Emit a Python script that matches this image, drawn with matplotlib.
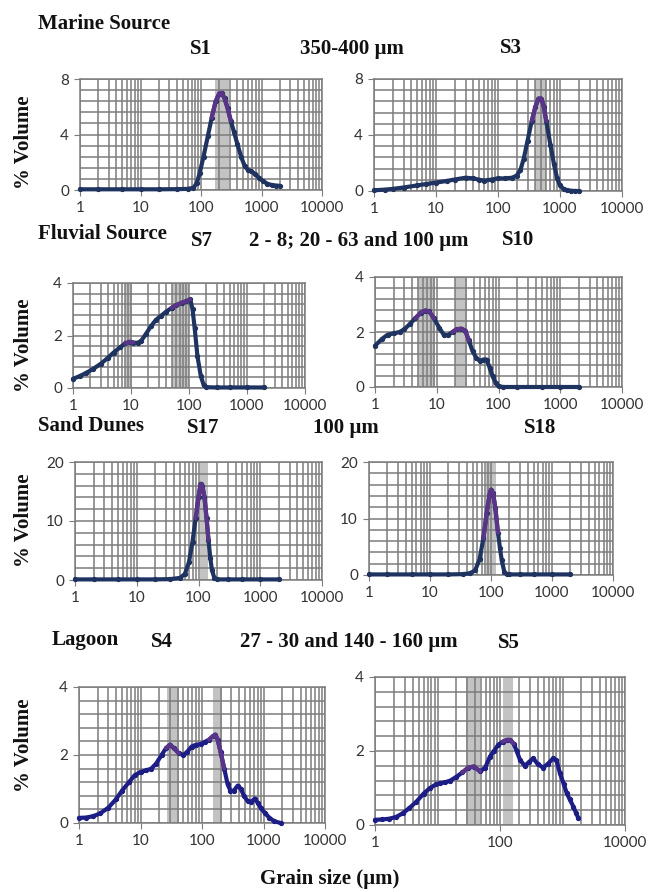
import numpy as np
import matplotlib
matplotlib.use('Agg')
import matplotlib.pyplot as plt
from matplotlib.ticker import FixedLocator, NullFormatter

W, H = 649, 892

# grain size (um) / % volume
s1_x = [1, 2, 5, 10, 20, 40, 60, 75, 85, 95, 110, 130, 150, 175, 200, 220, 245, 275, 310, 350,
        400, 460, 530, 600, 680, 780, 900, 1050, 1250, 1500, 1750, 2000]
s1_y = [0.05, 0.05, 0.05, 0.05, 0.05, 0.06, 0.08, 0.15, 0.5, 1.2, 2.4, 3.9, 5.2, 6.4, 6.95, 7.0,
        6.6, 5.9, 5.0, 4.2, 3.3, 2.4, 1.7, 1.45, 1.35, 1.15, 0.9, 0.65, 0.45, 0.35, 0.32, 0.3]

s3_x = [1, 1.5, 2, 3, 5, 7, 10, 15, 20, 30, 40, 50, 60, 80, 100, 130, 170, 200, 230, 260, 300,
        350, 400, 450, 500, 550, 600, 700, 800, 900, 1000, 1150, 1300, 1500, 1750, 2000]
s3_y = [0.05, 0.1, 0.15, 0.25, 0.4, 0.5, 0.6, 0.72, 0.82, 0.95, 0.9, 0.8, 0.75, 0.82, 0.9, 0.9,
        0.95, 1.1, 1.5, 2.3, 3.6, 5.0, 6.0, 6.6, 6.6, 6.0, 5.0, 3.3, 1.9, 0.9, 0.4, 0.12, 0.05,
        0.02, 0.0, 0.0]

s7_x = [1, 1.3, 1.7, 2.2, 3, 4, 5, 6.5, 8, 9.5, 11, 13, 15, 18, 22, 27, 33, 40, 50, 60, 75, 90,
        105, 115, 125, 140, 160, 180, 200, 300, 500, 1000, 2000]
s7_y = [0.35, 0.45, 0.58, 0.72, 0.92, 1.15, 1.35, 1.55, 1.7, 1.76, 1.73, 1.72, 1.8, 2.05, 2.35,
        2.6, 2.75, 2.9, 3.05, 3.15, 3.25, 3.3, 3.38, 3.0, 2.3, 1.2, 0.45, 0.1, 0.03, 0.02, 0.02,
        0.02, 0.02]

s10_x = [1, 1.3, 1.6, 2, 2.5, 3, 3.7, 4.5, 5.5, 6.5, 7.5, 9, 11, 13, 15, 18, 21, 25, 29, 33, 38,
         44, 50, 57, 64, 72, 80, 90, 100, 120, 200, 500, 1000, 2000]
s10_y = [1.5, 1.75, 1.9, 1.95, 2.0, 2.1, 2.3, 2.5, 2.7, 2.78, 2.75, 2.5, 2.15, 1.9, 1.88, 2.0, 2.1,
         2.12, 2.05, 1.7, 1.3, 1.05, 0.95, 1.0, 1.0, 0.7, 0.4, 0.15, 0.02, 0.0, 0.0, 0.0, 0.0, 0.0]

s17_x = [1, 2, 5, 10, 20, 35, 50, 60, 70, 80, 90, 100, 108, 115, 125, 135, 145, 155, 165, 180,
         200, 300, 500, 1000, 2000]
s17_y = [0.1, 0.1, 0.1, 0.1, 0.1, 0.15, 0.35, 1.0, 3.0, 6.5, 10.5, 14.0, 16.3, 16.0, 14.0, 10.5,
         6.8, 3.8, 1.7, 0.4, 0.1, 0.1, 0.1, 0.1, 0.1]

s18_x = [1, 2, 5, 10, 20, 35, 45, 55, 65, 75, 85, 95, 100, 108, 118, 130, 140, 150, 165, 180,
         200, 300, 500, 1000, 2000]
s18_y = [0.1, 0.1, 0.1, 0.1, 0.1, 0.15, 0.3, 0.8, 2.8, 6.5, 11.0, 14.3, 15.1, 14.5, 11.8, 7.5,
         4.8, 2.6, 0.6, 0.15, 0.1, 0.1, 0.1, 0.1, 0.1]

s4_x = [1, 1.3, 1.7, 2.2, 3, 4, 5, 6.5, 8, 10, 12.5, 15, 18, 22, 26, 30, 35, 42, 50, 58, 68, 80,
        95, 110, 130, 150, 165, 180, 200, 230, 260, 290, 330, 380, 430, 480, 550, 630, 720, 800,
        900, 1050, 1250, 1500, 1900]
s4_y = [0.15, 0.16, 0.2, 0.28, 0.45, 0.7, 0.95, 1.2, 1.4, 1.5, 1.55, 1.6, 1.75, 2.0, 2.2, 2.3,
        2.2, 2.05, 2.0, 2.1, 2.25, 2.3, 2.32, 2.38, 2.45, 2.55, 2.6, 2.45, 2.1, 1.6, 1.15, 0.95,
        0.95, 1.1, 1.0, 0.8, 0.65, 0.62, 0.72, 0.6, 0.45, 0.3, 0.15, 0.05, 0.0]

s5_x = [1, 1.3, 1.7, 2.2, 2.8, 3.5, 4.6, 6, 7.6, 9.5, 11, 13, 16, 20, 25, 31, 38, 48, 58, 69, 80,
        94, 110, 130, 145, 165, 185, 210, 250, 290, 340, 400, 490, 580, 710, 800, 910, 1050, 1170,
        1300, 1490, 1650, 1800]
s5_y = [0.14, 0.15, 0.17, 0.22, 0.32, 0.45, 0.63, 0.85, 1.0, 1.1, 1.13, 1.15, 1.2, 1.3, 1.42,
        1.55, 1.58, 1.45, 1.55, 1.85, 2.0, 2.17, 2.25, 2.3, 2.3, 2.2, 2.0, 1.75, 1.6, 1.7, 1.8,
        1.65, 1.55, 1.65, 1.8, 1.75, 1.4, 1.1, 0.86, 0.7, 0.5, 0.32, 0.18]

# highlighted size ranges (grey bands)
s1_bands = [(170, 290)]
s3_bands = [(400, 600)]
s7_bands = [(8, 10.5), (50, 100)]
s10_bands = [(5, 9.5), (20, 31)]
s17_bands = [(105, 140)]
s18_bands = [(82, 122)]
s4_bands = [(27, 42), (150, 210)]
s5_bands = [(29, 48), (112, 160)]

plt.rcParams['font.family'] = ['Lato', 'DejaVu Sans']
serif = 'Liberation Serif'
grid_c = '#7c7c7c'

fig = plt.figure(figsize=(W / 100, H / 100), dpi=100)


def box(l, r, t, b):
    return [l / W, 1 - b / H, (r - l) / W, (b - t) / H]


def panel(rect, x, y, bands, ymax, color, sparse=False):
    ax = fig.add_axes(box(*rect))
    ax.set_xscale('log')
    ax.set_xlim(1, 10000)
    ax.set_ylim(0, ymax)
    for lo, hi in bands:
        ax.axvspan(lo, hi, color='#bdbdbd', alpha=0.9, lw=0, zorder=0.5)
    if sparse:
        major = [1, 100, 10000]
    else:
        major = [1, 10, 100, 1000, 10000]
    minor = [m * 10 ** k for k in range(4) for m in range(1, 10) if m * 10 ** k not in major]
    ax.xaxis.set_major_locator(FixedLocator(major))
    ax.xaxis.set_minor_locator(FixedLocator(minor))
    ax.xaxis.set_minor_formatter(NullFormatter())
    ax.set_xticklabels([str(v) for v in major])
    ax.set_yticks([0, ymax / 2, ymax])
    ax.set_yticklabels([str(int(v)) for v in [0, ymax / 2, ymax]])
    ax.yaxis.set_minor_locator(FixedLocator(np.linspace(0, ymax, 11)))
    ax.grid(True, which='both', color=grid_c, lw=1.1)
    ax.set_axisbelow(True)
    ax.tick_params(axis='both', which='major', length=4, color=grid_c, labelsize=11,
                   labelcolor='#333333', pad=4)
    ax.tick_params(axis='both', which='minor', length=0)
    for s in ax.spines.values():
        s.set_color(grid_c)
        s.set_linewidth(1.1)
    ax.plot(x, y, color=color, lw=3, marker='o', ms=2.8, solid_capstyle='round', zorder=3,
            clip_on=False)
    xa = np.array(x)
    ya = np.array(y)
    for lo, hi in bands:
        m = (xa >= lo * 0.85) & (xa <= hi * 1.1)
        if m.sum() > 1:
            ax.plot(xa[m], ya[m], color='#5a3488', lw=3, solid_capstyle='round', zorder=4)
    return ax


navy = '#1f3360'
blue = '#1d1d86'
panel((80, 322, 79, 190), s1_x, s1_y, s1_bands, 8, navy)
panel((374, 622, 79, 191), s3_x, s3_y, s3_bands, 8, navy)
panel((73, 305, 283, 388), s7_x, s7_y, s7_bands, 4, navy)
panel((375, 622, 277, 387), s10_x, s10_y, s10_bands, 4, navy)
panel((75, 322, 462, 580), s17_x, s17_y, s17_bands, 20, navy)
panel((369, 613, 462, 575), s18_x, s18_y, s18_bands, 20, navy)
panel((79, 325, 687, 823), s4_x, s4_y, s4_bands, 4, blue)
panel((375, 625, 677, 825), s5_x, s5_y, s5_bands, 4, blue, sparse=True)


def label(x, y, s, ha='center', rot=0):
    fig.text(x / W, 1 - y / H, s, ha=ha, va='center', family=serif, weight='bold',
             fontsize=15, rotation=rot, color='#111111')


label(38, 24, 'Marine Source', ha='left')
label(201, 49, 'S1')
label(352, 49, '350-400 µm')
label(511, 48, 'S3')
label(38, 234, 'Fluvial Source', ha='left')
label(202, 241, 'S7')
label(359, 241, '2 - 8; 20 - 63 and 100 µm')
label(518, 240, 'S10')
label(38, 426, 'Sand Dunes', ha='left')
label(203, 428, 'S17')
label(346, 428, '100 µm')
label(540, 428, 'S18')
label(52, 640, 'Lagoon', ha='left')
label(162, 642, 'S4')
label(349, 642, '27 - 30 and 140 - 160 µm')
label(509, 643, 'S5')
label(330, 879, 'Grain size (µm)')
for yc in [142, 345, 520, 745]:
    label(24, yc, '% Volume', rot=90)

fig.savefig('out.png', dpi=100)
